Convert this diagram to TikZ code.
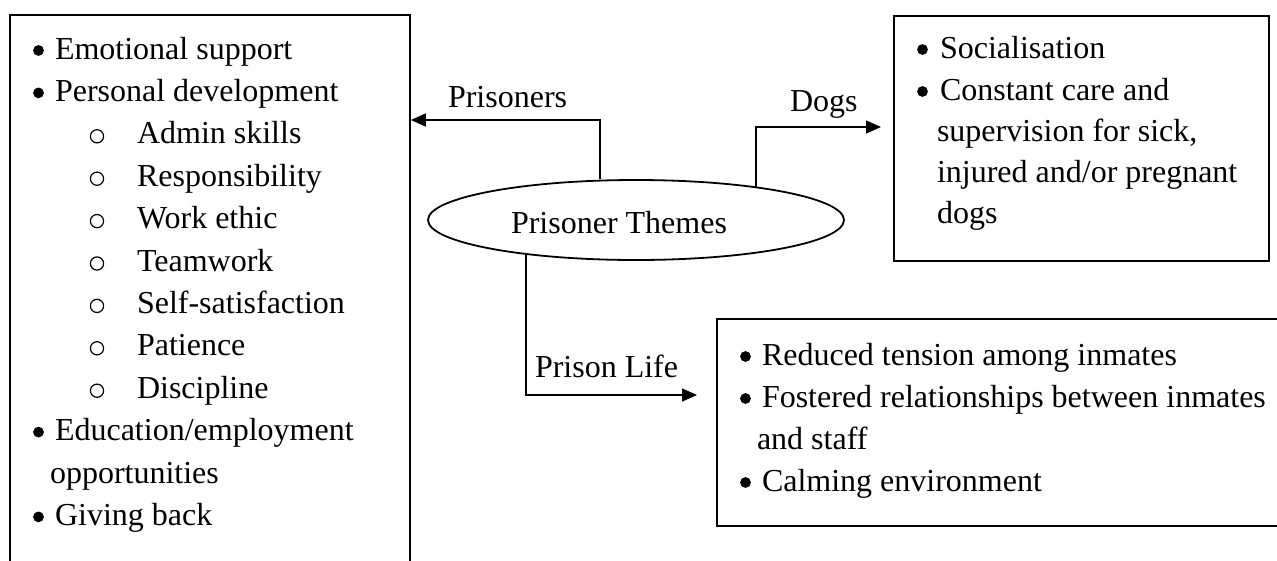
\documentclass[tikz,border=0pt]{standalone}
\usepackage{fontspec}
\setmainfont{Liberation Serif}
\usetikzlibrary{arrows.meta,shapes.geometric}
\newcommand\mybul[1]{\makebox[#1][l]{\tikz[baseline=0pt]{\useasboundingbox (0pt,0pt) rectangle (11pt,1pt);\fill (5.5pt,8.5pt) circle (5.4pt);}}}
\newcommand\mysub{\makebox[50pt][l]{\hspace{3pt}\tikz[baseline=0pt]{\useasboundingbox (0pt,0pt) rectangle (14pt,1pt);\draw[line width=1.2pt] (7pt,7.5pt) circle (6.6pt);}}}
\begin{document}
\begin{tikzpicture}[x=1pt,y=-1pt,
  box/.style={draw,line width=1.8pt,rectangle,inner sep=0pt,anchor=north west},
  conn/.style={line width=1.3pt},
  arr/.style={conn,-{Triangle[length=15pt,width=13pt]}},
  txt/.style={anchor=base west,inner sep=0pt,outer sep=0pt,font=\fontsize{32}{38}\selectfont},
]
\useasboundingbox[fill=white] (0,0) rectangle (1277,560);
\clip (0,0) rectangle (1277,560);

% boxes
\node[box,minimum width=400pt,minimum height=600pt] (left) at (9,14) {};
\node[box,minimum width=375pt,minimum height=245pt] (dogs) at (893,15) {};
\node[box,minimum width=580pt,minimum height=207pt] (prison) at (716,318) {};
\node[draw,ellipse,line width=1.8pt,minimum width=416pt,minimum height=80pt,inner sep=0pt] (themes) at (636,220) {};
\node[txt] (themeslbl) at (511,233) {Prisoner Themes};

% connectors
\coordinate (pA) at (600,120);
\coordinate (dA) at (756,127);
\coordinate (lA) at (526,395);
\draw[arr] (pA |- themes.north) -- (pA) -- (pA -| left.east);
\draw[arr,shorten >=12pt] (dA |- themes.15.4) -- (dA) -- (dA -| dogs.west);
\draw[arr,shorten >=19pt] (lA |- themes.197.2) -- (lA) -- (lA -| prison.west);
\node[txt] (lblP) at (448,107) {Prisoners};
\node[txt] (lblD) at (790,111) {Dogs};
\node[txt] (lblL) at (535,377) {Prison Life};

% left box text
\node[txt] (l0) at (33,59.0) {\mybul{22pt}Emotional support};
\node[txt] (l1) at (33,101.4) {\mybul{22pt}Personal development};
\node[txt] (l2) at (87,143.8) {\mysub Admin skills};
\node[txt] (l3) at (87,186.2) {\mysub Responsibility};
\node[txt] (l4) at (87,228.6) {\mysub Work ethic};
\node[txt] (l5) at (87,271.0) {\mysub Teamwork};
\node[txt] (l6) at (87,313.4) {\mysub Self-satisfaction};
\node[txt] (l7) at (87,355.8) {\mysub Patience};
\node[txt] (l8) at (87,398.2) {\mysub Discipline};
\node[txt] (l9) at (33,440.6) {\mybul{22pt}Education/employment};
\node[txt] (l10) at (50,483.0) {opportunities};
\node[txt] (l11) at (33,525.4) {\mybul{22pt}Giving back};

% dogs box text
\node[txt] (d0) at (917,58) {\mybul{23pt}Socialisation};
\node[txt] (d1) at (917,100) {\mybul{23pt}Constant care and};
\node[txt] (d2) at (937,141) {supervision for sick,};
\node[txt] (d3) at (937,182) {injured and/or pregnant};
\node[txt] (d4) at (937,223) {dogs};

% prison life box text
\node[txt] (p0) at (740,365) {\mybul{22pt}Reduced tension among inmates};
\node[txt] (p1) at (740,407) {\mybul{22pt}Fostered relationships between inmates};
\node[txt] (p2) at (757,449) {and staff};
\node[txt] (p3) at (740,491) {\mybul{22pt}Calming environment};
\end{tikzpicture}
\end{document}
